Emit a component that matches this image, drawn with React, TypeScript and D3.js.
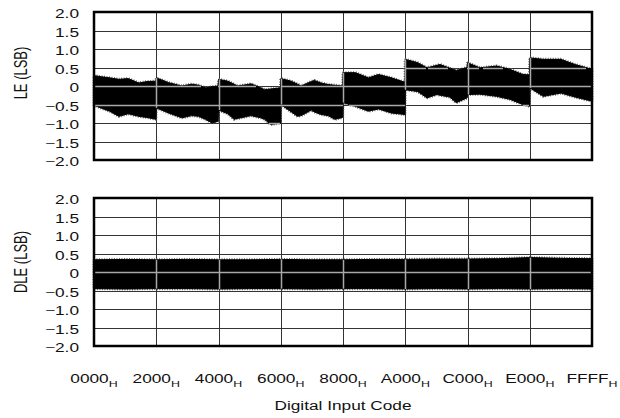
import React from "react";
import * as d3 from "d3";

// ---- data ----
const xTickCodes = [0x0000, 0x2000, 0x4000, 0x6000, 0x8000, 0xa000, 0xc000, 0xe000, 0xffff];
const xTickLabels = ["0000", "2000", "4000", "6000", "8000", "A000", "C000", "E000", "FFFF"];
const yTicks = [2, 1.5, 1, 0.5, 0, -0.5, -1, -1.5, -2];
const yTickLabels = ["2.0", "1.5", "1.0", "0.5", "0", "\u22120.5", "\u22121.0", "\u22121.5", "\u22122.0"];

// LE envelope (upper / lower extent of the noisy trace)
const leCodes = [
  0, 983, 2048, 3277, 4506, 5898, 6963, 8151,
  8192, 9830, 11551, 12861, 13763, 14664, 15565, 16343,
  16384, 17613, 18432, 18842, 20234, 20644, 21955, 22446, 23265, 24535,
  24576, 25969, 26788, 27279, 28590, 29000, 29901, 30802, 31703, 32727,
  32768, 34406, 36127, 37437, 39158, 40919,
  40960, 42598, 43827, 45138, 45548, 46858, 47268, 47678, 49111,
  49152, 50790, 53002, 54723, 56443, 57303,
  57344, 59146, 61440, 63324, 65535,
];
const leUpper = [
  0.28, 0.25, 0.22, 0.18, 0.2, 0.08, 0.12, 0.13,
  0.22, 0.09, 0.0, 0.05, 0.02, -0.05, -0.02, 0.0,
  0.18, 0.13, 0.05, 0.0, 0.04, 0.06, -0.05, -0.1, -0.08, -0.05,
  0.2, 0.13, 0.05, 0.0, 0.12, 0.15, 0.08, 0.04, 0.02, 0.0,
  0.36, 0.36, 0.22, 0.31, 0.22, 0.1,
  0.72, 0.63, 0.49, 0.56, 0.58, 0.48, 0.45, 0.42, 0.5,
  0.63, 0.49, 0.54, 0.45, 0.31, 0.3,
  0.76, 0.72, 0.72, 0.58, 0.45,
];
const leLower = [
  -0.52, -0.6, -0.68, -0.82, -0.75, -0.82, -0.85, -0.9,
  -0.59, -0.73, -0.86, -0.8, -0.82, -0.9, -1.0, -0.95,
  -0.65, -0.75, -0.9, -0.88, -0.82, -0.8, -0.86, -0.9, -1.04, -1.0,
  -0.5, -0.7, -0.82, -0.8, -0.65, -0.7, -0.77, -0.8, -0.9, -0.85,
  -0.45, -0.55, -0.68, -0.62, -0.73, -0.77,
  -0.1, -0.15, -0.32, -0.23, -0.25, -0.3, -0.38, -0.45, -0.32,
  -0.23, -0.22, -0.28, -0.36, -0.5, -0.55,
  -0.05, -0.28, -0.19, -0.3, -0.41,
];

// DLE envelope
const dleCodes = [0, 4096, 8192, 12288, 16384, 20480, 24576, 28672, 32768, 36864, 40960, 45056, 49152, 53248, 57344, 61440, 65535];
const dleUpper = [0.33, 0.34, 0.33, 0.34, 0.33, 0.33, 0.34, 0.33, 0.33, 0.34, 0.34, 0.35, 0.35, 0.36, 0.39, 0.37, 0.36];
const dleLower = [-0.45, -0.46, -0.45, -0.45, -0.46, -0.45, -0.45, -0.46, -0.45, -0.45, -0.46, -0.45, -0.46, -0.45, -0.46, -0.45, -0.46];

// ---- layout ----
const W = 620;
const H = 418;
const left = 94;
const right = 592;
const panels = [
  { id: "le", title: "LE (LSB)", top: 12, bottom: 160, titleY: 73, codes: leCodes, upper: leUpper, lower: leLower },
  { id: "dle", title: "DLE (LSB)", top: 198, bottom: 346, titleY: 262, codes: dleCodes, upper: dleUpper, lower: dleLower },
];
const SX = 1.38; // horizontal stretch of the lettering
const FONT = "'Liberation Sans', Arial, Helvetica, sans-serif";

const x = d3.scaleLinear().domain([0, 0xffff]).range([left, right]);

function Panel({ p }: { p: (typeof panels)[number] }) {
  const y = d3.scaleLinear().domain([-2, 2]).range([p.bottom, p.top]);
  const pts = p.codes.map((c, i) => ({ c, u: p.upper[i], l: p.lower[i] }));
  const area = d3
    .area<{ c: number; u: number; l: number }>()
    .x((d) => x(d.c))
    .y0((d) => y(d.l))
    .y1((d) => y(d.u))
    .curve(d3.curveLinear);
  const path = area(pts) || "";

  // envelope lookup (piecewise linear, same as the drawn polygon)
  const upAt = d3.scaleLinear().domain(p.codes).range(p.upper).clamp(true);
  const loAt = d3.scaleLinear().domain(p.codes).range(p.lower).clamp(true);

  const hLines = yTicks.slice(1, -1).map((t) => Math.round(y(t)) + 0.5);
  const vLines = xTickCodes.slice(1, -1).map((c) => ({ c, px: Math.round(x(c)) + 0.5 }));

  // parts of the gridlines lying over the black band
  const overH: { y: number; x1: number; x2: number }[] = [];
  yTicks.slice(1, -1).forEach((t, k) => {
    let start: number | null = null;
    for (let px = left; px <= right; px++) {
      const c = x.invert(px + 0.5);
      const inside = px < right && loAt(c) < t && upAt(c) > t;
      if (inside && start === null) start = px;
      if (!inside && start !== null) {
        overH.push({ y: hLines[k], x1: start, x2: px });
        start = null;
      }
    }
  });
  const overV = vLines.map((v) => ({ x: v.px, y1: y(upAt(v.c)), y2: y(loAt(v.c)) }));

  return (
    <g>
      <g stroke="#333" strokeWidth={1} shapeRendering="crispEdges">
        {hLines.map((yy) => (
          <line key={"h" + yy} x1={left} x2={right} y1={yy} y2={yy} />
        ))}
        {vLines.map((v) => (
          <line key={"v" + v.c} x1={v.px} x2={v.px} y1={p.top} y2={p.bottom} />
        ))}
      </g>
      <path d={path} fill="none" stroke="#6a6a6a" strokeWidth={3} strokeDasharray="1 1.5" strokeLinejoin="bevel" />
      <path d={path} fill="#000" stroke="#000" strokeWidth={1} strokeLinejoin="bevel" />
      <g stroke="#a8a8a8" strokeWidth={1.5}>
        {overH.map((s, i) => (
          <line key={"oh" + i} x1={s.x1} x2={s.x2} y1={s.y} y2={s.y} />
        ))}
        {overV.map((s, i) => (
          <line key={"ov" + i} x1={s.x} x2={s.x} y1={s.y1} y2={s.y2} />
        ))}
      </g>
      <rect x={left} y={p.top} width={right - left} height={p.bottom - p.top} fill="none" stroke="#000" strokeWidth={2.5} />
      {yTicks.map((t, i) => (
        <text
          key={t}
          transform={`translate(79,${y(t) + 6}) scale(${SX},1)`}
          textAnchor="end"
          fontSize={12.5}
          fontFamily={FONT}
          fill="#111"
        >
          {yTickLabels[i]}
        </text>
      ))}
      <text
        transform={`translate(27,${p.titleY}) scale(${SX},1) rotate(-90)`}
        textAnchor="middle"
        fontSize={13}
        fontFamily={FONT}
        fill="#111"
      >
        {p.title}
      </text>
    </g>
  );
}

export default function App() {
  return (
    <svg width={W} height={H} style={{ display: "block", position: "absolute", left: 0, top: 0, background: "#fff" }}>
      <rect width={W} height={H} fill="#fff" />
      {panels.map((p) => (
        <Panel key={p.id} p={p} />
      ))}
      {xTickCodes.map((c, i) => (
        <text
          key={c}
          transform={`translate(${x(c)},383) scale(${SX},1)`}
          textAnchor="middle"
          fontSize={12.5}
          fontFamily={FONT}
          fill="#111"
        >
          {xTickLabels[i]}
          <tspan fontSize={9} dy={4}>H</tspan>
        </text>
      ))}
      <text
        transform={`translate(${(left + right) / 2},410) scale(${SX},1)`}
        textAnchor="middle"
        fontSize={12.5}
        fontFamily={FONT}
        fill="#111"
      >
        Digital Input Code
      </text>
    </svg>
  );
}
